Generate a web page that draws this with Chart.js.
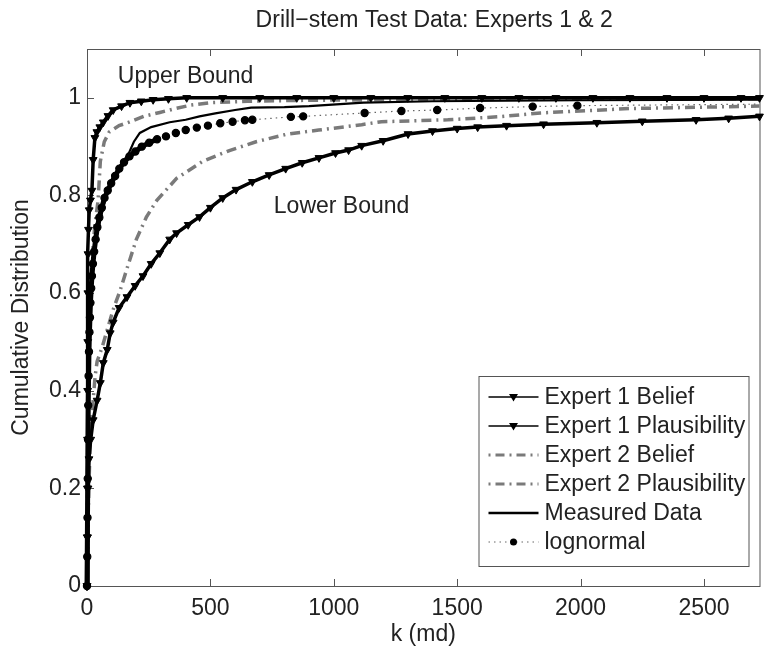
<!DOCTYPE html>
<html>
<head>
<meta charset="utf-8">
<script src="https://cdn.jsdelivr.net/npm/chart.js@4"></script>
<style>
  html, body { margin: 0; padding: 0; background: #fff; }
  #wrap { width: 765px; height: 650px; position: relative; }
</style>
</head>
<body>
<div id="wrap"><canvas id="chart"></canvas></div>
<script>
// permeability k (md) and cumulative probability
const e1PlausK = [0, 1, 1.5, 2, 2.5, 3, 3.5, 4, 6, 9, 14, 20, 25, 32, 40, 52, 66, 85, 106, 140, 174, 220, 268, 330, 404, 550, 700, 850, 1000, 1150, 1300, 1450, 1600, 1750, 1900, 2050, 2200, 2350, 2500, 2650, 2725];
const e1PlausP = [0, 0.1, 0.2, 0.3, 0.4, 0.5, 0.6, 0.68, 0.73, 0.77, 0.79, 0.81, 0.873, 0.918, 0.93, 0.94, 0.95, 0.963, 0.975, 0.983, 0.99, 0.993, 0.996, 0.998, 1, 1, 1, 1, 1, 1, 1, 1, 1, 1, 1, 1, 1, 1, 1, 1, 1];

const e1BelK = [0, 2, 4, 8, 15, 25, 41, 54, 66, 82, 94, 106, 130, 162, 195, 227, 260, 295, 335, 363, 410, 456, 500, 550, 604, 670, 738, 805, 872, 940, 1007, 1060, 1113, 1200, 1301, 1400, 1500, 1583, 1700, 1850, 2066, 2250, 2468, 2600, 2725];
const e1BelP = [0, 0.1, 0.2, 0.26, 0.3, 0.34, 0.38, 0.416, 0.457, 0.484, 0.518, 0.54, 0.57, 0.592, 0.615, 0.635, 0.66, 0.682, 0.71, 0.723, 0.74, 0.756, 0.775, 0.795, 0.812, 0.828, 0.842, 0.855, 0.867, 0.877, 0.887, 0.893, 0.902, 0.912, 0.926, 0.932, 0.937, 0.94, 0.943, 0.946, 0.949, 0.952, 0.955, 0.958, 0.962];

const e2PlausK = [0, 2, 4, 8, 14, 22, 32, 45, 54, 70, 90, 130, 170, 230, 295, 350, 420, 500, 650, 900, 1500, 2725];
const e2PlausP = [0, 0.2, 0.35, 0.5, 0.6, 0.68, 0.74, 0.79, 0.87, 0.91, 0.93, 0.943, 0.95, 0.962, 0.97, 0.977, 0.985, 0.99, 0.993, 0.995, 0.997, 0.998];

const e2BelK = [0, 5, 12, 20, 33, 41, 62, 82, 106, 134, 165, 200, 240, 283, 363, 469, 577, 685, 806, 939, 1113, 1193, 1462, 1663, 1838, 2200, 2725];
const e2BelP = [0, 0.15, 0.28, 0.35, 0.43, 0.46, 0.49, 0.525, 0.566, 0.605, 0.655, 0.71, 0.755, 0.79, 0.835, 0.87, 0.892, 0.91, 0.925, 0.934, 0.945, 0.951, 0.955, 0.961, 0.969, 0.978, 0.983];

const measuredK = [0, 1, 2, 3, 5, 8, 12, 20, 30, 45, 66, 90, 120, 150, 170, 190, 214, 260, 335, 400, 456, 520, 600, 665, 800, 900, 1120, 1400, 2000, 2725];
const measuredP = [0, 0.1, 0.25, 0.4, 0.5, 0.56, 0.6, 0.65, 0.69, 0.73, 0.777, 0.815, 0.85, 0.872, 0.887, 0.91, 0.928, 0.94, 0.95, 0.955, 0.962, 0.968, 0.975, 0.98, 0.981, 0.983, 0.99, 0.993, 0.995, 0.996];

const lognormK = [0, 1, 2, 3, 4, 5, 6.5, 8, 10, 12, 14, 17, 20, 24, 29, 35, 42, 50, 60, 71, 84, 98, 114, 131, 150, 172, 196, 222, 252, 284, 320, 360, 400, 445, 490, 540, 590, 640, 670, 826, 876, 1125, 1274, 1419, 1593, 1806, 1987, 2725];
const lognormP = [0, 0.06, 0.14, 0.22, 0.3, 0.37, 0.43, 0.48, 0.52, 0.55, 0.58, 0.61, 0.635, 0.66, 0.685, 0.71, 0.735, 0.755, 0.775, 0.795, 0.81, 0.825, 0.84, 0.855, 0.868, 0.88, 0.89, 0.9, 0.908, 0.915, 0.921, 0.928, 0.934, 0.939, 0.943, 0.948, 0.951, 0.954, 0.955, 0.961, 0.962, 0.969, 0.973, 0.975, 0.979, 0.982, 0.984, 0.987];
// below this k the lognormal markers crowd into a solid black band
const lognormDenseK = 284;

const xTicks = [0, 500, 1000, 1500, 2000, 2500];
const yTicks = [0, 0.2, 0.4, 0.6, 0.8, 1];
const seriesNames = ['Expert 1 Belief', 'Expert 1 Plausibility', 'Expert 2 Belief', 'Expert 2 Plausibility', 'Measured Data', 'lognormal'];
const notes = [
    { text: 'Upper Bound', k: 125, p: 1.043 },
    { text: 'Lower Bound', k: 757, p: 0.777 }
];

const FONT = '"Liberation Sans", Arial, Helvetica, sans-serif';
const FS = 23;
const TXT = '#222';
const GREY = '#7a7a7a';

const pts = (ks, ps) => ks.map((k, i) => ({ x: k, y: ps[i] }));

const expert1 = (name, ks, ps) => ({
    label: name, data: pts(ks, ps),
    borderColor: '#000', backgroundColor: '#000', borderWidth: 3.5,
    pointStyle: 'triangle', pointRotation: 180, pointRadius: 4.5,
    pointBorderWidth: 1, tension: 0, clip: 6
});
const expert2 = (name, ks, ps) => ({
    label: name, data: pts(ks, ps),
    borderColor: GREY, borderWidth: 3.5, borderDash: [10, 5, 2, 5],
    pointRadius: 0, tension: 0, clip: 6
});

// legend samples, MATLAB style: short line with marker in the middle
const legendStyles = [
    { color: '#000', width: 1.5, dash: [], marker: 'tri' },
    { color: '#000', width: 1.5, dash: [], marker: 'tri' },
    { color: GREY, width: 3, dash: [2, 5, 9, 5], marker: null },
    { color: GREY, width: 3, dash: [2, 5, 9, 5], marker: null },
    { color: '#000', width: 2.5, dash: [], marker: null },
    { color: '#666', width: 1, dash: [1.5, 4], marker: 'dot' }
];

const axisDecor = {
    id: 'axisDecor',
    beforeDatasetsDraw(chart) {
        const { ctx, chartArea: a, scales } = chart;
        ctx.save();
        ctx.strokeStyle = '#555';
        ctx.lineWidth = 1;
        ctx.strokeRect(a.left + 0.5, a.top + 0.5, a.right - a.left, a.bottom - a.top);
        ctx.beginPath();
        xTicks.forEach(v => {
            const x = Math.round(scales.x.getPixelForValue(v)) + 0.5;
            ctx.moveTo(x, a.bottom); ctx.lineTo(x, a.bottom - 7);
            ctx.moveTo(x, a.top); ctx.lineTo(x, a.top + 7);
        });
        yTicks.forEach(v => {
            const y = Math.round(scales.y.getPixelForValue(v)) + 0.5;
            ctx.moveTo(a.left, y); ctx.lineTo(a.left + 7, y);
        });
        ctx.stroke();
        ctx.restore();
    },
    afterDatasetsDraw(chart) {
        const { ctx, chartArea: a, scales } = chart;
        ctx.save();
        ctx.fillStyle = TXT;
        ctx.font = FS + 'px ' + FONT;
        ctx.textAlign = 'center';
        ctx.textBaseline = 'middle';
        ctx.fillText('Drill\u2212stem Test Data: Experts 1 & 2', (a.left + a.right) / 2 + 11, 21);
        ctx.textAlign = 'left';
        notes.forEach(n => {
            ctx.fillText(n.text, scales.x.getPixelForValue(n.k), scales.y.getPixelForValue(n.p));
        });

        // legend box
        const bx = a.right - 281, by = a.bottom - 210, bw = 270, bh = 190, step = 29;
        ctx.fillStyle = '#fff';
        ctx.fillRect(bx, by, bw, bh);
        ctx.strokeStyle = '#555';
        ctx.lineWidth = 1;
        ctx.strokeRect(bx + 0.5, by + 0.5, bw, bh);
        seriesNames.forEach((name, i) => {
            const s = legendStyles[i];
            const y = by + 21 + i * step;
            const x0 = bx + 10, x1 = bx + 60, xm = (x0 + x1) / 2;
            ctx.save();
            ctx.strokeStyle = s.color;
            ctx.lineWidth = s.width;
            ctx.setLineDash(s.dash);
            ctx.beginPath(); ctx.moveTo(x0, y); ctx.lineTo(x1, y); ctx.stroke();
            ctx.setLineDash([]);
            ctx.fillStyle = '#000';
            if (s.marker === 'tri') {
                ctx.beginPath();
                ctx.moveTo(xm - 4.5, y - 3); ctx.lineTo(xm + 4.5, y - 3); ctx.lineTo(xm, y + 4.5);
                ctx.closePath(); ctx.fill();
            } else if (s.marker === 'dot') {
                ctx.beginPath(); ctx.arc(xm, y, 3.5, 0, Math.PI * 2); ctx.fill();
            }
            ctx.restore();
            ctx.fillStyle = TXT;
            ctx.textBaseline = 'middle';
            ctx.fillText(name, bx + 66, y + 1);
        });
        ctx.restore();
    }
};

const dense = c => lognormK[c.p1DataIndex] <= lognormDenseK;

new Chart(document.getElementById('chart'), {
    type: 'line',
    data: {
        datasets: [
            expert1(seriesNames[0], e1BelK, e1BelP),
            expert1(seriesNames[1], e1PlausK, e1PlausP),
            {
                label: seriesNames[4], data: pts(measuredK, measuredP),
                borderColor: '#000', borderWidth: 2.2, pointRadius: 0, tension: 0, clip: 6
            },
            {
                label: seriesNames[5], data: pts(lognormK, lognormP),
                borderColor: '#666', borderWidth: 1.2, borderDash: [1.5, 4],
                segment: {
                    borderWidth: c => dense(c) ? 5 : 1.2,
                    borderColor: c => dense(c) ? '#000' : '#666',
                    borderDash: c => dense(c) ? [] : [1.5, 4]
                },
                pointStyle: 'circle', backgroundColor: '#000', pointBorderColor: '#000',
                pointRadius: c => c.dataIndex === lognormK.length - 1 ? 0 : 3.6,
                tension: 0, clip: 6
            },
            expert2(seriesNames[2], e2BelK, e2BelP),
            expert2(seriesNames[3], e2PlausK, e2PlausP)
        ]
    },
    options: {
        animation: false,
        responsive: true,
        maintainAspectRatio: false,
        devicePixelRatio: 1,
        layout: { padding: { top: 49, right: 1, left: 0, bottom: 0 } },
        plugins: { legend: { display: false }, tooltip: { enabled: false }, title: { display: false } },
        scales: {
            x: {
                type: 'linear', min: 0, max: 2725,
                afterBuildTicks: s => { s.ticks = xTicks.map(v => ({ value: v })); },
                afterFit: s => { s.height = 64; },
                grid: { display: false, drawTicks: false },
                border: { display: false },
                ticks: { padding: 9, color: TXT, font: { family: FONT, size: FS }, maxRotation: 0, autoSkip: false, callback: v => String(v) },
                title: { display: true, text: 'k (md)', color: TXT, font: { family: FONT, size: FS }, padding: { top: 0, bottom: 2 } }
            },
            y: {
                type: 'linear', min: 0, max: 1.1,
                afterBuildTicks: s => { s.ticks = yTicks.map(v => ({ value: v })); },
                afterFit: s => { s.width = 87; },
                grid: { display: false, drawTicks: false },
                border: { display: false },
                ticks: { padding: 6, color: TXT, font: { family: FONT, size: FS }, callback: v => String(v) },
                title: { display: true, text: 'Cumulative Distribution', color: TXT, font: { family: FONT, size: FS }, padding: { top: 8, bottom: 0 } }
            }
        }
    },
    plugins: [axisDecor]
});
</script>
</body>
</html>
